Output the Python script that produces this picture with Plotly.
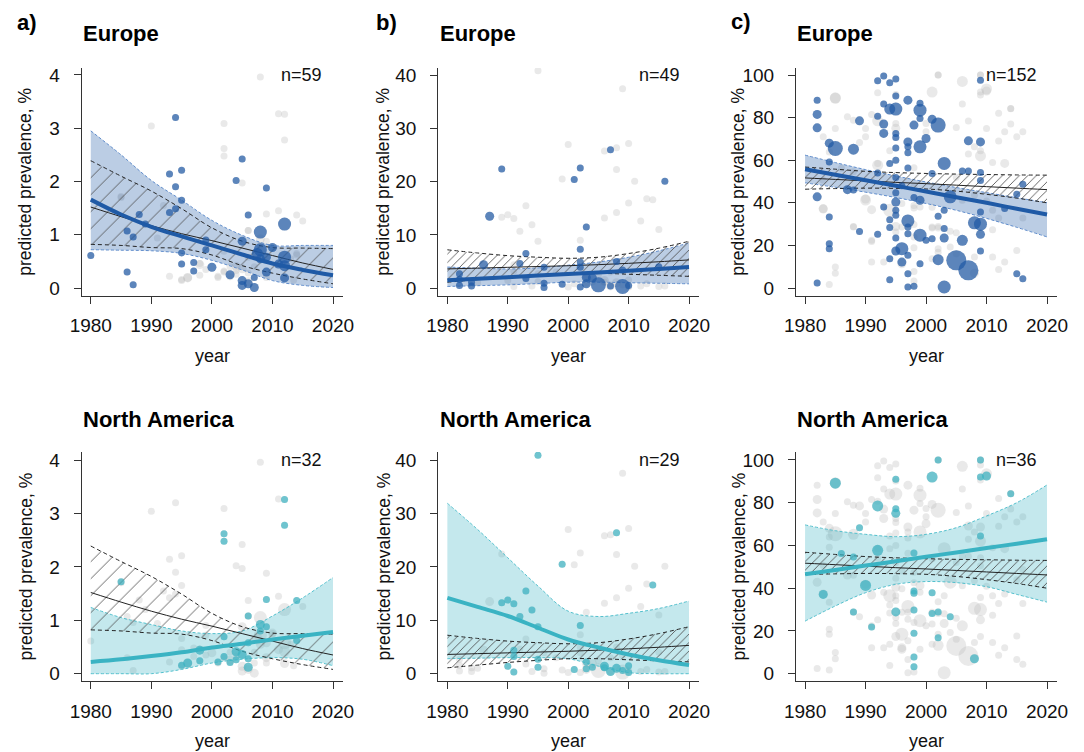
import plotly.graph_objects as go

# ---------------- data ----------------
fit_years = [1980, 1985, 1990, 1995, 2000, 2005, 2010, 2015, 2020]

# ---- column a (0-4 %) ----
a_eu_year = [1980, 1986, 1987, 1986, 1987, 1988, 1989, 1994, 1993, 1995, 1994, 1995, 1994, 1993, 1995, 1995,
             1997, 1997, 1999, 1999, 2000, 2003, 2004, 2005, 2005, 2006, 2005, 2005, 2006, 2007, 2007, 2008,
             2008, 2009, 2009, 2010, 2012, 2012, 2012, 2012, 2009, 2007.5, 2011, 2008]
a_eu_prev = [0.61, 0.30, 0.06, 1.07, 0.96, 1.38, 1.20, 3.20, 2.14, 2.21, 1.90, 1.65, 1.49, 1.42, 0.66, 0.45,
             0.32, 0.48, 0.90, 0.72, 0.39, 0.25, 2.02, 2.42, 0.88, 1.37, 0.14, 0.05, 0.08, 0.01, 0.20, 1.05,
             0.72, 1.88, 0.30, 0.76, 1.20, 0.58, 0.19, 0.42, 0.58, 0.65, 0.45, 0.55]
a_eu_w = [1, 1, 1, 1, 1, 1, 1, 1, 1, 1, 1, 1, 1, 1, 1, 1,
          1, 1, 1, 1, 2, 2, 1, 1, 2, 1, 2, 2, 2, 2, 1, 4,
          4, 1, 2, 2, 4, 4, 2, 3, 2, 3, 2, 2]
a_na_year = [1985, 2002, 2002, 2012, 2012, 2006, 2009, 2014, 2008, 2009, 1998, 1995, 1996, 1998, 2001, 2002,
             2003, 2004, 2004, 2005, 2006, 2006, 2002, 2006, 2008, 2014]
a_na_prev = [1.72, 2.62, 2.48, 3.26, 2.78, 1.08, 1.39, 1.37, 0.92, 0.88, 0.44, 0.16, 0.20, 0.24, 0.22, 0.32,
             0.21, 0.41, 0.26, 0.36, 0.28, 0.12, 0.69, 0.58, 0.80, 0.62]
a_na_w = [1, 1, 1, 1, 1, 1, 1, 1, 2, 1, 2, 1, 2, 1, 1, 1,
          1, 2, 1, 2, 1, 2, 1, 1, 1, 1]
a_oth_year = [1990, 2002, 2005, 2008, 2011, 2011, 2015, 1992, 1991, 1993, 1995, 1996, 1998, 2001, 2002, 2003,
              2004, 2007, 2013.5, 2014, 2010, 1999, 2009, 2013, 1985, 2006]
a_oth_prev = [3.04, 3.09, 1.97, 3.96, 3.27, 1.45, 1.26, 1.55, 0.94, 0.22, 0.14, 0.19, 0.46, 0.20, 0.30, 0.40,
              0.33, 0.40, 0.15, 0.65, 0.75, 0.35, 0.20, 0.55, 1.70, 1.08]
a_oth_w = [1, 1, 1, 1, 1, 1, 1, 1, 1, 1, 1, 2, 1, 1, 1, 1,
           1, 1, 1, 1, 1, 1, 1, 1, 1, 1]

a_all_fit = [1.52, 1.34, 1.17, 1.02, 0.89, 0.75, 0.61, 0.47, 0.35]
a_all_lo = [0.82, 0.80, 0.76, 0.74, 0.62, 0.42, 0.28, 0.17, 0.08]
a_all_hi = [2.39, 2.10, 1.82, 1.49, 1.13, 0.88, 0.76, 0.75, 0.74]
a_eu_fit = [1.66, 1.38, 1.15, 0.97, 0.80, 0.63, 0.46, 0.34, 0.24]
a_eu_lo = [0.72, 0.71, 0.70, 0.65, 0.52, 0.34, 0.14, 0.05, 0.01]
a_eu_hi = [2.95, 2.50, 2.02, 1.65, 1.27, 0.99, 0.80, 0.80, 0.80]
a_na_fit = [0.22, 0.27, 0.33, 0.40, 0.49, 0.56, 0.64, 0.71, 0.78]
a_na_lo = [0.00, 0.00, 0.00, 0.08, 0.20, 0.27, 0.30, 0.27, 0.15]
a_na_hi = [1.24, 1.05, 0.92, 0.80, 0.75, 0.80, 1.08, 1.42, 1.80]

# ---- column b (0-40 %) ----
b_eu_year = [1982, 1982, 1982, 1984, 1984, 1986, 1987, 1989, 1992, 1993, 1993, 1996, 1996, 1996, 1999, 2001,
             2002, 2002, 2002, 2002, 2002, 2003, 2003, 2004, 2005, 2007, 2008, 2009, 2009, 2016, 2015, 2003,
             2007, 2010]
b_eu_prev = [2.7, 0.5, 1.6, 1.1, 0.4, 4.4, 13.5, 22.4, 4.6, 6.5, 1.8, 3.9, 0.9, 0.1, 0.7, 20.4,
             22.6, 7.3, 4.9, 3.9, 0.2, 11.5, 0.8, 1.9, 0.6, 26.0, 5.0, 0.3, 3.4, 20.1, 4.0, 2.0,
             0.4, 0.5]
b_eu_w = [1, 1, 1, 1, 1, 2, 2, 1, 1, 1, 1, 1, 1, 1, 1, 1,
          1, 1, 1, 1, 1, 1, 2, 2, 5, 1, 1, 5, 1, 1, 1, 2,
          1, 1]
b_na_year = [1995, 1999, 2008, 2014, 1993, 1989, 1990, 1991, 1994, 1992, 1995, 2002, 1991, 1991, 1995, 1995,
             1990, 1991, 2001, 2003, 2004, 2006, 2007, 2008, 2009, 2010, 2006, 2003, 2010]
b_na_prev = [40.9, 20.5, 26.4, 16.6, 15.5, 13.3, 13.8, 13.1, 11.9, 10.7, 8.8, 9.0, 4.4, 3.2, 2.7, 1.2,
             1.4, 0.3, 0.8, 2.2, 1.2, 1.4, 0.4, 1.0, 0.6, 0.2, 1.1, 0.9, 1.5]
b_na_w = [1, 1, 1, 1, 1, 1, 1, 1, 1, 1, 1, 1, 1, 1, 1, 1,
          1, 1, 1, 1, 1, 2, 2, 2, 1, 1, 1, 1, 1]
b_oth_year = [2009, 2000, 2010, 2006, 2008, 2011, 2010, 2013, 2006, 2008, 2012, 2015, 2000, 2012, 2015, 2016,
              1994, 1998, 2005, 2013, 1985, 2007]
b_oth_prev = [37.5, 27.0, 27.2, 25.8, 22.3, 20.1, 16.0, 16.8, 13.2, 14.2, 12.6, 11.0, 0.2, 0.4, 0.3, 0.4,
              0.4, 3.0, 2.5, 0.8, 1.0, 3.0]
b_oth_w = [1, 1, 1, 1, 1, 1, 1, 1, 1, 1, 1, 1, 1, 1, 1, 1,
           1, 1, 1, 1, 1, 1]

b_all_fit = [3.6, 3.75, 3.9, 4.05, 4.2, 4.4, 4.65, 4.95, 5.3]
b_all_lo = [1.1, 1.6, 2.1, 2.5, 2.8, 2.8, 2.6, 2.4, 2.2]
b_all_hi = [7.2, 6.6, 6.1, 5.8, 5.6, 5.8, 6.5, 7.5, 8.8]
b_eu_fit = [1.45, 1.75, 2.05, 2.35, 2.65, 2.95, 3.25, 3.6, 3.95]
b_eu_lo = [0.3, 0.45, 0.6, 0.85, 1.1, 1.1, 1.0, 0.9, 0.8]
b_eu_hi = [3.95, 3.75, 3.6, 3.8, 4.3, 4.9, 5.8, 7.0, 8.5]
b_na_fit = [14.2, 12.5, 10.8, 8.6, 6.4, 4.9, 3.6, 2.5, 1.6]
b_na_lo = [2.8, 2.9, 3.0, 3.0, 2.8, 1.4, 0.2, 0.0, 0.0]
b_na_hi = [31.9, 27.0, 21.7, 16.4, 11.7, 10.7, 11.3, 12.2, 13.6]

# ---- column c (0-100 %) ----
c_eu_year = [1982, 1982, 1982, 1982, 1982, 1984, 1984, 1984, 1984, 1984, 1985, 1988, 1987, 1988, 1989, 1989,
             1992, 1992, 1992, 1992, 1993, 1993, 1993, 1993, 1993, 1994, 1994, 1994, 1994, 1994, 1994, 1994,
             1995, 1995, 1995, 1995, 1995, 1995, 1995, 1995, 1995, 1995, 1995, 1995, 1995, 1995, 1996, 1996,
             1997, 1997, 1997, 1997, 1997, 1997, 1997, 1997, 1997, 1997, 1997, 1998, 1998, 1998, 1999, 1999,
             1999, 1999, 1999, 1999, 1999, 2000, 2000, 2001, 2001, 2001, 2002, 2002, 2002, 2003, 2003, 2003,
             2003, 2004, 2005, 2006, 2007, 2007, 2007, 2008, 2009, 2009, 2009, 2009, 2009, 2009, 2009, 2009,
             2013, 2015, 2016, 2016, 2015, 2006, 2003, 1996]
c_eu_prev = [88.2, 81.5, 75.2, 42.8, 2.4, 59.2, 33.4, 20.8, 18.5, 68.0, 65.5, 65.2, 46.2, 46.0, 78.5, 26.6,
             97.3, 80.7, 25.2, 54.0, 99.5, 86.4, 77.0, 72.6, 38.1, 96.4, 84.0, 58.5, 32.1, 28.4, 13.8, 3.9,
             98.1, 90.1, 84.0, 72.6, 70.7, 65.8, 60.0, 51.9, 44.7, 40.4, 36.5, 34.2, 23.5, 17.4, 18.5, 12.2,
             88.2, 68.6, 66.3, 63.5, 56.4, 31.5, 28.7, 25.5, 15.4, 6.7, 0.5, 76.5, 42.5, 0.8, 86.7, 83.5,
             79.6, 66.3, 41.2, 24.8, 11.4, 70.2, 22.4, 79.2, 23.2, 53.8, 76.5, 33.7, 13.3, 58.5, 0.5, 36.5,
             23.5, 42.8, 13.0, 22.4, 8.3, 55.0, 69.1, 30.6, 30.0, 68.6, 54.2, 50.5, 35.7, 25.2, 17.4, 97.6,
             37.3, 6.7, 4.4, 48.7, 44.0, 55.0, 28.0, 48.0]
c_eu_w = [1, 2, 2, 2, 1, 1, 1, 1, 1, 2, 5, 3, 2, 1, 2, 1,
          1, 1, 1, 1, 1, 1, 2, 2, 1, 1, 3, 1, 1, 1, 1, 1,
          1, 1, 4, 1, 1, 1, 1, 1, 1, 2, 1, 1, 1, 2, 4, 2,
          2, 2, 1, 1, 1, 4, 1, 1, 1, 1, 1, 2, 1, 1, 1, 4,
          1, 4, 2, 4, 1, 2, 1, 2, 1, 1, 5, 1, 3, 4, 4, 1,
          2, 4, 6, 3, 6, 1, 2, 4, 4, 2, 1, 1, 1, 2, 1, 1,
          1, 1, 1, 1, 1, 1, 1, 1]
c_na_year = [1985, 1983, 1986, 1988, 1988, 1989, 1990, 1991, 1992, 1992, 1995, 1995, 1995, 1995, 1998, 1998,
             1998, 1998, 1998, 1998, 1998, 2001, 2001, 2001, 2002, 2002, 2002, 2004, 2009, 2009, 2010, 2009,
             2008, 2014]
c_na_prev = [89.1, 37.1, 56.2, 54.6, 28.9, 68.3, 41.3, 21.8, 78.5, 57.7, 90.9, 77.2, 75.0, 28.9, 56.5, 38.7,
             37.6, 29.8, 18.9, 7.8, 3.3, 92.0, 37.9, 28.2, 100.0, 28.9, 16.8, 26.7, 100.0, 92.0, 92.5, 64.4,
             7.0, 84.2]
c_na_w = [3, 2, 1, 1, 1, 1, 3, 1, 3, 3, 1, 1, 2, 2, 1, 1,
          1, 1, 1, 1, 1, 3, 1, 1, 1, 1, 1, 1, 1, 1, 2, 1,
          2, 1]
c_oth_year = [2002, 2006, 2009, 2010, 2009, 2006, 2012, 2014, 2007, 2010, 2014, 2016, 2013, 2015, 2012, 2005,
              2008, 2007, 2009, 2011, 2013, 2005, 1985, 1987, 1988, 1990, 1990, 1991, 1992, 1983, 1983, 1985,
              1984, 1983, 1990, 1991, 1988, 1991, 1985, 1985, 1984, 1991, 1993, 1994, 1995, 1996, 1996, 1998,
              1999, 2000, 2000, 2001, 2001, 2002, 2002, 2004, 2005, 2005, 2006, 2008, 2011, 2011, 2012, 2011,
              2013, 2012, 2015, 2016, 2010, 2008, 1992, 1994, 1996, 1998]
c_oth_prev = [100.0, 97.0, 100.0, 93.5, 90.6, 86.4, 82.0, 84.3, 78.4, 74.9, 77.0, 73.4, 73.4, 71.0, 69.0, 75.4,
              66.3, 62.9, 62.0, 58.9, 58.5, 52.0, 89.3, 80.4, 78.8, 74.9, 71.0, 81.5, 91.7, 71.0, 50.6, 74.9,
              63.9, 37.3, 41.8, 36.8, 28.7, 22.4, 9.9, 7.0, 1.7, 12.2, 12.2, 36.5, 26.3, 28.7, 11.4, 24.0,
              38.1, 77.3, 73.4, 28.7, 13.8, 28.2, 18.5, 19.3, 26.0, 16.1, 41.2, 14.6, 36.5, 27.4, 32.9, 14.6,
              12.2, 8.7, 17.6, 32.9, 40.9, 43.6, 58.5, 64.4, 39.7, 47.5]
c_oth_w = [1, 3, 1, 3, 1, 1, 1, 1, 1, 1, 1, 1, 1, 1, 1, 1,
           1, 1, 3, 1, 2, 1, 3, 1, 1, 1, 1, 1, 1, 1, 1, 1,
           1, 2, 2, 2, 1, 1, 1, 1, 1, 1, 1, 4, 1, 1, 2, 1,
           1, 1, 1, 1, 1, 1, 1, 1, 1, 1, 1, 1, 1, 1, 1, 1,
           1, 1, 1, 1, 1, 1, 1, 1, 1, 1]

c_all_fit = [51.7, 51.0, 50.3, 49.6, 49.0, 48.3, 47.6, 46.9, 46.2]
c_all_lo = [46.4, 46.7, 46.9, 46.8, 46.5, 45.5, 44.0, 42.2, 40.0]
c_all_hi = [56.8, 55.8, 54.8, 54.2, 53.8, 53.5, 53.3, 53.1, 53.0]
c_eu_fit = [55.8, 53.2, 50.6, 48.0, 45.3, 42.6, 40.0, 37.2, 34.5]
c_eu_lo = [49.4, 47.3, 45.0, 42.5, 39.7, 36.5, 32.7, 28.5, 24.0]
c_eu_hi = [62.4, 58.9, 55.6, 52.6, 49.8, 47.2, 44.8, 42.4, 40.1]
c_na_fit = [46.5, 48.5, 50.6, 52.6, 54.7, 56.7, 58.8, 60.8, 62.9]
c_na_lo = [24.6, 31.7, 37.9, 41.8, 43.1, 42.6, 40.7, 37.1, 33.5]
c_na_hi = [69.6, 66.9, 65.2, 64.1, 65.2, 68.3, 73.8, 80.0, 88.3]

panel_letters = ["a)", "b)", "c)"]
region_titles = ["Europe", "North America"]
n_labels = [["n=59", "n=49", "n=152"], ["n=32", "n=29", "n=36"]]
x_ticks = [1980, 1990, 2000, 2010, 2020]
y_ticks = [[0, 1, 2, 3, 4], [0, 10, 20, 30, 40], [0, 20, 40, 60, 80, 100]]

# ---------------- figure ----------------
W, H = 1084, 752
FONT = "Liberation Sans, Arial, sans-serif"
BLUE = "#1f5aa6"
BLUE_BAND = "rgba(31,90,166,0.30)"
BLUE_EDGE = "#5f8ccb"
TEAL = "#3ab3c3"
TEAL_BAND = "rgba(58,179,195,0.30)"
TEAL_EDGE = "#54c0cd"
GRAY = "rgba(185,185,185,0.45)"
size_map = {1: 7, 2: 9, 3: 11, 4: 13, 5: 15, 6: 20}

cols = [
    dict(eu=(a_eu_year, a_eu_prev, a_eu_w), na=(a_na_year, a_na_prev, a_na_w), oth=(a_oth_year, a_oth_prev, a_oth_w),
         all=(a_all_fit, a_all_lo, a_all_hi), eufit=(a_eu_fit, a_eu_lo, a_eu_hi), nafit=(a_na_fit, a_na_lo, a_na_hi),
         yr=[[-0.14, 4.13], [-0.137, 4.15]], hatch=12, sol=0.07),
    dict(eu=(b_eu_year, b_eu_prev, b_eu_w), na=(b_na_year, b_na_prev, b_na_w), oth=(b_oth_year, b_oth_prev, b_oth_w),
         all=(b_all_fit, b_all_lo, b_all_hi), eufit=(b_eu_fit, b_eu_lo, b_eu_hi), nafit=(b_na_fit, b_na_lo, b_na_hi),
         yr=[[-1.4, 41.4], [-1.37, 41.5]], hatch=6, sol=0.14),
    dict(eu=(c_eu_year, c_eu_prev, c_eu_w), na=(c_na_year, c_na_prev, c_na_w), oth=(c_oth_year, c_oth_prev, c_oth_w),
         all=(c_all_fit, c_all_lo, c_all_hi), eufit=(c_eu_fit, c_eu_lo, c_eu_hi), nafit=(c_na_fit, c_na_lo, c_na_hi),
         yr=[[-3.5, 103.3], [-3.4, 103.7]], hatch=6, sol=0.14),
]

# pixel layout
col_px = [(81.7, 343.0), (438.3, 699.0), (796.0, 1057.0)]
row_px = [(68.0, 295.5), (452.0, 681.0)]
ytitle_px = [25, 383, 738]
letter_px = [(27, 22), (386, 22), (741, 21)]
title_left_px = [81, 438, 795]
title_y_px = [33, 419]
year_y_px = [356, 741]
n_right_px = [324, 682, 1039]
n_y_px = [75, 460]


def px(x):
    return x / W


def py(y):
    return 1 - y / H


fig = go.Figure()
layout = dict(template="none", width=W, height=H, autosize=False,
              margin=dict(l=0, r=0, t=0, b=0, pad=0, autoexpand=False), plot_bgcolor="white",
              paper_bgcolor="white", showlegend=False, font=dict(family=FONT, color="#111", size=18))
annotations = []

idx = 0
for r in range(2):
    for c in range(3):
        idx += 1
        cd = cols[c]
        xa = "x" if idx == 1 else f"x{idx}"
        ya = "y" if idx == 1 else f"y{idx}"
        xkey = "xaxis" if idx == 1 else f"xaxis{idx}"
        ykey = "yaxis" if idx == 1 else f"yaxis{idx}"

        # all points in gray
        gy = list(cd["eu"][0]) + list(cd["na"][0]) + list(cd["oth"][0])
        gv = list(cd["eu"][1]) + list(cd["na"][1]) + list(cd["oth"][1])
        gw = list(cd["eu"][2]) + list(cd["na"][2]) + list(cd["oth"][2])
        fig.add_trace(go.Scatter(x=gy, y=gv, mode="markers", xaxis=xa, yaxis=ya,
                                 marker=dict(color=GRAY, size=[size_map[w] for w in gw], line=dict(width=0))))

        if r == 0:
            fit, pts, col, band, edge = cd["eufit"], cd["eu"], BLUE, BLUE_BAND, BLUE_EDGE
        else:
            fit, pts, col, band, edge = cd["nafit"], cd["na"], TEAL, TEAL_BAND, TEAL_EDGE

        # regional confidence band
        fig.add_trace(go.Scatter(x=fit_years, y=fit[1], mode="lines", xaxis=xa, yaxis=ya,
                                 line=dict(color=edge, width=1, dash="3px,2px", shape="spline")))
        fig.add_trace(go.Scatter(x=fit_years, y=fit[2], mode="lines", xaxis=xa, yaxis=ya, fill="tonexty",
                                 fillcolor=band, line=dict(color=edge, width=1, dash="3px,2px", shape="spline")))

        # global hatched band
        allf = cd["all"]
        fig.add_trace(go.Scatter(x=fit_years, y=allf[1], mode="lines", xaxis=xa, yaxis=ya,
                                 line=dict(color="#222", width=1, dash="4px,3px", shape="spline")))
        fig.add_trace(go.Scatter(x=fit_years, y=allf[2], mode="lines", xaxis=xa, yaxis=ya, fill="tonexty",
                                 fillcolor="rgba(0,0,0,0)",
                                 fillpattern=dict(shape="/", fgcolor="#4a4a4a", bgcolor="rgba(0,0,0,0)",
                                                  size=cd["hatch"], solidity=cd["sol"]),
                                 line=dict(color="#222", width=1, dash="4px,3px", shape="spline")))
        fig.add_trace(go.Scatter(x=fit_years, y=allf[0], mode="lines", xaxis=xa, yaxis=ya,
                                 line=dict(color="#222", width=1, shape="spline")))

        # regional points and fit
        fig.add_trace(go.Scatter(x=pts[0], y=pts[1], mode="markers", xaxis=xa, yaxis=ya,
                                 marker=dict(color=col, size=[size_map[w] for w in pts[2]], line=dict(width=0))))
        fig.add_trace(go.Scatter(x=fit_years, y=fit[0], mode="lines", xaxis=xa, yaxis=ya,
                                 line=dict(color=col, width=4, shape="spline")))

        x0, x1 = col_px[c]
        y0, y1 = row_px[r]
        axis_common = dict(showline=True, linecolor="#333", linewidth=1.2, ticks="outside", ticklen=7,
                           tickcolor="#333", tickwidth=1.2, showgrid=False, zeroline=False, automargin=False,
                           tickfont=dict(family=FONT, size=19, color="#111"))
        layout[xkey] = dict(domain=[px(x0), px(x1)], range=[1978.5, 2021.65], anchor=ya,
                            tickvals=x_ticks, ticklabelstandoff=6, **axis_common)
        layout[ykey] = dict(domain=[py(y1), py(y0)], range=cd["yr"][r], anchor=xa,
                            tickvals=y_ticks[c], ticklabelstandoff=10, **axis_common)

        # texts
        annotations.append(dict(text="year", x=px((x0 + x1) / 2), y=py(year_y_px[r]), xref="paper", yref="paper",
                                showarrow=False, font=dict(family=FONT, size=18, color="#111"),
                                xanchor="center", yanchor="middle"))
        annotations.append(dict(text="predicted prevalence, %", x=px(ytitle_px[c]), y=py((y0 + y1) / 2),
                                xref="paper", yref="paper", showarrow=False, textangle=-90,
                                font=dict(family=FONT, size=17.5, color="#111"), xanchor="center", yanchor="middle"))
        annotations.append(dict(text=f"<b>{region_titles[r]}</b>", x=px(title_left_px[c]), y=py(title_y_px[r]),
                                xref="paper", yref="paper", showarrow=False,
                                font=dict(family=FONT, size=22, color="#000"), xanchor="left", yanchor="middle"))
        annotations.append(dict(text=n_labels[r][c], x=px(n_right_px[c]), y=py(n_y_px[r]), xref="paper",
                                yref="paper", showarrow=False, font=dict(family=FONT, size=18, color="#111"),
                                xanchor="right", yanchor="middle"))
        if r == 0:
            lx, ly = letter_px[c]
            annotations.append(dict(text=f"<b>{panel_letters[c]}</b>", x=px(lx), y=py(ly), xref="paper",
                                    yref="paper", showarrow=False, font=dict(family=FONT, size=22, color="#000"),
                                    xanchor="center", yanchor="middle"))

layout["annotations"] = annotations
fig.update_layout(**layout)
fig.write_html("out.html",
               config={"displayModeBar": False, "responsive": False},
               post_script="document.body.style.margin='0';document.body.style.padding='0';"
                           "document.documentElement.style.overflow='hidden';")
